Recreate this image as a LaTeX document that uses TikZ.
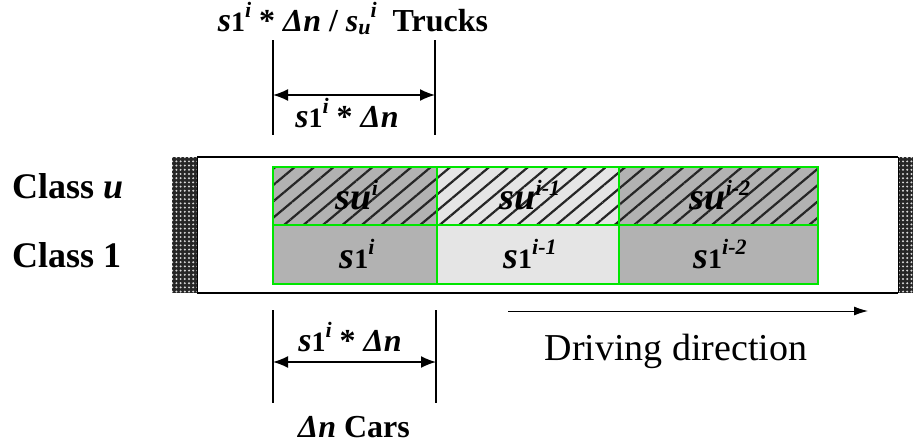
\documentclass[tikz,border=0pt]{standalone}
\usepackage{fontspec}
\setmainfont{Liberation Serif}
\usetikzlibrary{arrows.meta,patterns,patterns.meta}

\definecolor{cellgreen}{RGB}{0,230,0}

% s with a subscript and a superscript, as in the cells
\newcommand{\sbig}[3]{{\fontsize{#1}{#1}\selectfont\bfseries\itshape s}#2\raisebox{14pt}{\fontsize{22}{22}\selectfont\bfseries\itshape #3}}
\newcommand{\one}{{\fontsize{28}{28}\selectfont\bfseries 1}}
\newcommand{\uu}{{\fontsize{38}{38}\selectfont\bfseries\itshape u}}

\tikzset{
  cell/.style={draw=cellgreen, line width=1.3pt},
  stripes/.style={pattern={Lines[angle=40,distance=12.5pt,line width=2.2pt]}, pattern color=black!85},
  roadend/.style={fill=black!85},
  tick/.style={line width=1.6pt},
  dimarrow/.style={line width=1.6pt, {Latex[length=15pt,width=12pt]}-{Latex[length=15pt,width=12pt]}},
  lbl/.style={inner sep=0pt, anchor=base},
  classlbl/.style={inner sep=0pt, anchor=base west, font=\fontsize{36}{36}\selectfont\bfseries},
}

\begin{document}
\begin{tikzpicture}[x=1pt,y=-1pt]
  \useasboundingbox (0,0) rectangle (915,447);

  % road ends
  \fill[roadend] (172,157) rectangle (197,293);
  \fill[pattern={Dots[radius=1.1pt,distance=4.2pt]}, pattern color=white!85!black] (172,157) rectangle (197,293);
  \fill[roadend] (898,157) rectangle (913,293);
  \fill[pattern={Dots[radius=1.1pt,distance=4.2pt]}, pattern color=white!85!black] (898,157) rectangle (913,293);

  % road edges
  \draw[line width=2.2pt] (197,157) -- (898,157);
  \draw[line width=2.2pt] (197,293) -- (898,293);
  \draw[line width=0.8pt] (197,157) -- (197,293);
  \draw[line width=0.8pt] (898,157) -- (898,293);

  % cells, lower row class 1
  \fill[black!30] (273,225) rectangle (437,284);
  \fill[black!10] (437,225) rectangle (619,284);
  \fill[black!30] (619,225) rectangle (818,284);
  % cells, upper row class u
  \fill[black!30] (273,167) rectangle (437,225);
  \fill[black!10] (437,167) rectangle (619,225);
  \fill[black!30] (619,167) rectangle (818,225);
  \fill[stripes] (273,167) rectangle (818,225);
  \draw[cell] (273,167) rectangle (437,225);
  \draw[cell] (437,167) rectangle (619,225);
  \draw[cell] (619,167) rectangle (818,225);
  \draw[cell] (273,225) rectangle (437,284);
  \draw[cell] (437,225) rectangle (619,284);
  \draw[cell] (619,225) rectangle (818,284);

  \node[lbl] (su1) at (357,209) {\sbig{38}{\uu}{i}};
  \node[lbl] (su2) at (530,209) {\sbig{38}{\uu}{i-1}};
  \node[lbl] (su3) at (720,209) {\sbig{38}{\uu}{i-2}};
  \node[lbl] (sa1) at (357,268) {\sbig{38}{\one}{i}};
  \node[lbl] (sa2) at (530,268) {\sbig{38}{\one}{i-1}};
  \node[lbl] (sa3) at (720,268) {\sbig{38}{\one}{i-2}};

  % class labels
  \node[classlbl] (classu) at (12,198) {Class \textit{u}};
  \node[classlbl] (classone) at (12,267) {Class 1};

  % trucks dimension
  \node[lbl] (trucks) at (353,31) {\sbig{34}{\one}{i}{\fontsize{32}{32}\selectfont\bfseries\ * \textit{Δn} / \textit{s}}\raisebox{-3pt}{\fontsize{22}{22}\selectfont\bfseries\itshape u}\raisebox{14pt}{\fontsize{22}{22}\selectfont\bfseries\itshape i}{\fontsize{32}{32}\selectfont\bfseries\ \ Trucks}};
  \coordinate (tl) at (273,40);
  \coordinate (tr) at (435,40);
  \draw[tick] (tl) -- (273,135);
  \draw[tick] (tr) -- (435,135);
  \coordinate (tal) at (273,95);
  \coordinate (tar) at (435,95);
  \draw[dimarrow] (tal) -- (tar);
  \node[lbl] (toplen) at (347,127) {\sbig{34}{\one}{i}{\fontsize{32}{32}\selectfont\bfseries\ * \textit{Δn}}};

  % cars dimension
  \coordinate (bl) at (273,310);
  \coordinate (br) at (436,310);
  \draw[tick] (bl) -- (273,403);
  \draw[tick] (br) -- (436,403);
  \coordinate (bal) at (273,362);
  \coordinate (bar) at (436,362);
  \draw[dimarrow] (bal) -- (bar);
  \node[lbl] (botlen) at (350,351) {\sbig{34}{\one}{i}{\fontsize{32}{32}\selectfont\bfseries\ * \textit{Δn}}};
  \node[lbl] (cars) at (354,437) {\fontsize{32}{32}\selectfont\bfseries\textit{Δn} Cars};

  % driving direction
  \coordinate (dstart) at (508,311);
  \coordinate (dend) at (868,311);
  \draw[line width=1pt, -{Latex[length=14pt,width=9pt]}] (dstart) -- (dend);
  \node[lbl, font=\fontsize{38}{38}\selectfont] (drive) at (676,360) {Driving direction};
\end{tikzpicture}
\end{document}
